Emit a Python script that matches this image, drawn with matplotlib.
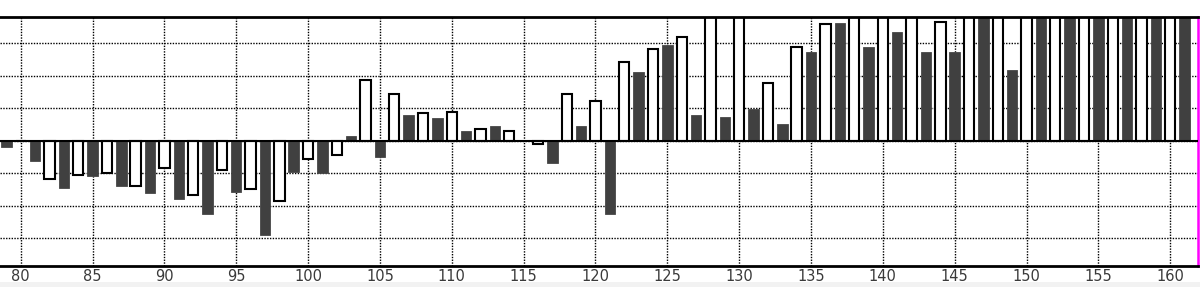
import matplotlib
matplotlib.use("Agg")
import matplotlib.pyplot as plt
from matplotlib.patches import Rectangle
import numpy as np

# Odd indices: dark bars; even indices: white (outlined) bars
dark_x = list(range(79, 162, 2))
dark_vals = [-0.18, -0.63, -1.47, -1.08, -1.39, -1.62, -1.78, -2.24, -1.58, -2.89,
             -0.97, -1.00, 0.14, -0.51, 0.79, 0.69, 0.30, 0.46, 0.00, -0.70,
             0.46, -2.24, 2.12, 2.94, 0.79, 0.74, 0.99, 0.51, 2.74, 3.61,
             2.89, 3.33, 2.74, 2.74, 5.00, 2.17,
             5.00, 5.00, 5.00, 5.00, 5.00, 5.00]
white_x = list(range(80, 161, 2))
white_vals = [0.00, -1.17, -1.06, -1.00, -1.38, -0.83, -1.66, -0.89, -1.50, -1.84,
              -0.56, -0.45, 1.88, 1.44, 0.84, 0.89, 0.35, 0.29, -0.11, 1.44,
              1.23, 2.43, 2.82, 3.20, 5.00, 5.00, 1.76, 2.87, 3.59, 5.00,
              5.00, 5.00, 3.66, 5.00, 5.00, 5.00, 5.00, 5.00, 5.00, 5.00, 5.00]
x_ticks = list(range(80, 161, 5))
y_grid = [-3, -2, -1, 0, 1, 2, 3]

W, H = 1200, 287
fig = plt.figure(figsize=(W / 100, H / 100), dpi=100)
fig.patches.append(Rectangle((0, 0), 1, 5.5 / H, transform=fig.transFigure,
                             facecolor="#f2f2f2", edgecolor="none", zorder=0))
ax = fig.add_axes([0, 1 - 266 / H, 1198 / W, (266 - 16.7) / H])
ax.set_facecolor("white")

ax.bar(dark_x, dark_vals, width=0.73, color="#404040", edgecolor="#474747",
       linewidth=0.6, zorder=3)
ax.bar(white_x, white_vals, width=0.72, color="white", edgecolor="black",
       linewidth=1.5, zorder=3)

ax.axhline(0, color="black", linewidth=1.5, zorder=4)

ax.set_xlim(78.56, 161.93)
ax.set_ylim(-3.855, 3.815)
ax.set_xticks(x_ticks)
ax.set_xticklabels([str(t) for t in x_ticks])
ax.set_yticks(y_grid)
ax.set_yticklabels([])
ax.grid(True, color="black", linestyle=(0, (1, 1)), linewidth=1.0)
ax.set_axisbelow(True)
ax.tick_params(axis="both", length=0)
ax.tick_params(axis="x", pad=2, labelsize=10.5, labelcolor="#3a3a3a")
for lab in ax.get_xticklabels():
    lab.set_family("DejaVu Sans")

ax.spines["left"].set_visible(False)
ax.spines["top"].set_linewidth(2)
ax.spines["bottom"].set_linewidth(2)
ax.spines["top"].set_zorder(5)
ax.spines["right"].set_color("#ff00ff")
ax.spines["right"].set_linewidth(1.8)

fig.savefig("out.png", dpi=100)
